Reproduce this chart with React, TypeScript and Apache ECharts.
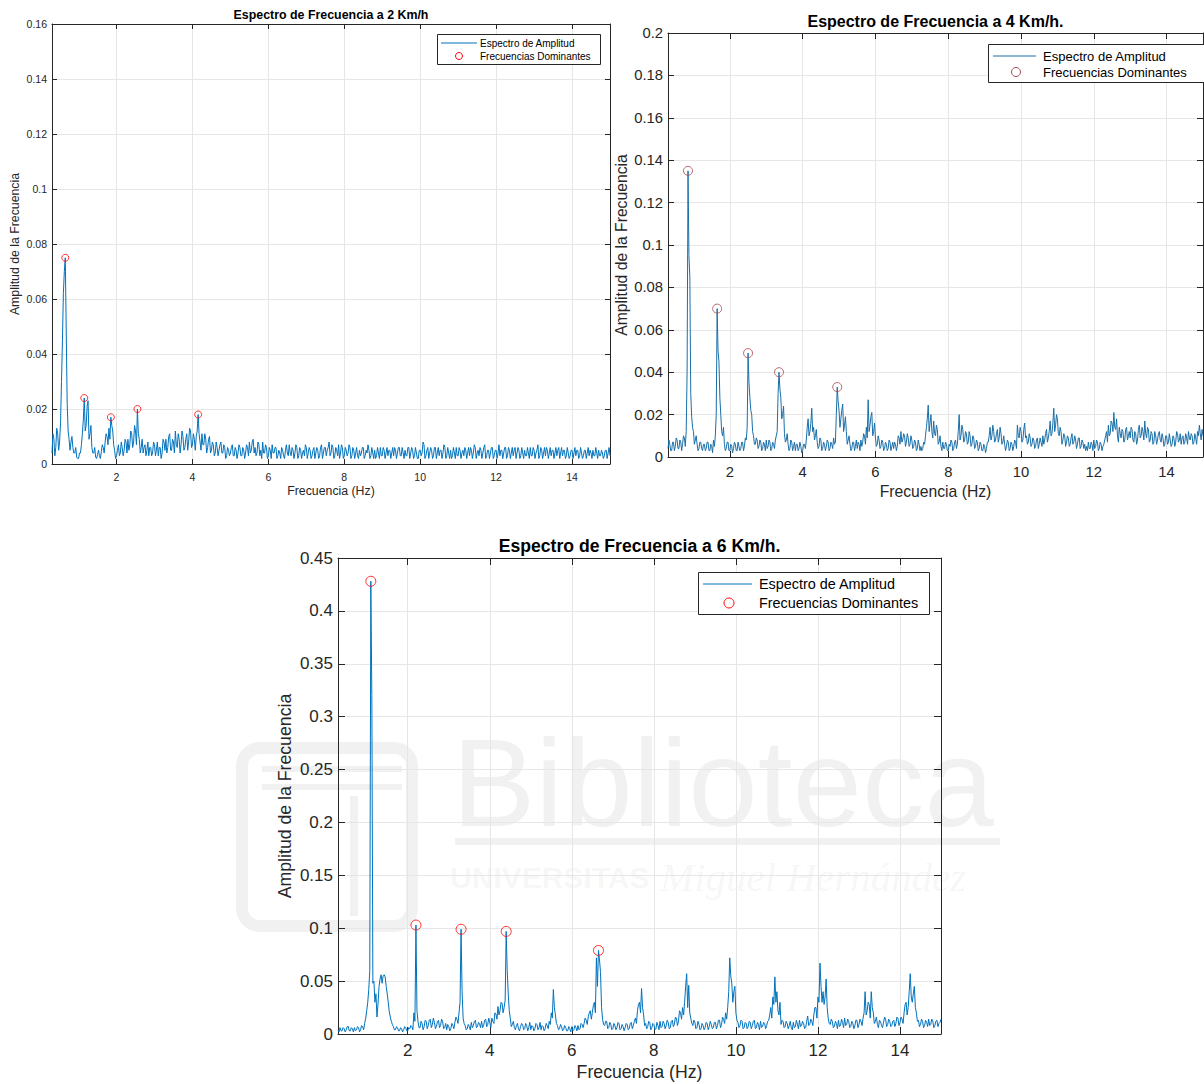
import { useEffect, useRef } from "react";
import * as echarts from "echarts";

// Frequency grid shared by the three spectra (Hz):
// the main samples sit at 0.30, 0.35, ... 15.00 and the half-step samples at 0.325, 0.375, ... 14.975
const FREQ_START = 0.3;
const FREQ_STEP = 0.05;
const FREQ_MAX = 15;
const FREQ_TICKS = [2, 4, 6, 8, 10, 12, 14];

// Amplitude spectrum at 2 Km/h, main samples
const amplitude2Kmh = [
  0.004, 0.009, 0.006, 0.011, 0.008, 0.03, 0.062, 0.075, 0.022, 0.009,
  0.008, 0.006, 0.004, 0.0025, 0.002, 0.004, 0.011, 0.024, 0.014, 0.023,
  0.011, 0.006, 0.004, 0.0025, 0.0035, 0.003, 0.0045, 0.006, 0.008, 0.01,
  0.013, 0.017, 0.012, 0.005, 0.003, 0.007, 0.004, 0.006, 0.005, 0.008,
  0.009, 0.007, 0.011, 0.008, 0.012, 0.02, 0.009, 0.006, 0.004, 0.007,
  0.005, 0.003, 0.006, 0.004, 0.007, 0.005, 0.003, 0.006, 0.004, 0.008,
  0.009, 0.006, 0.011, 0.005, 0.008, 0.012, 0.006, 0.009, 0.007, 0.01,
  0.006, 0.011, 0.008, 0.012, 0.007, 0.009, 0.01, 0.018, 0.008, 0.011,
  0.007, 0.009, 0.006, 0.01, 0.005, 0.007, 0.004, 0.006, 0.005, 0.008,
  0.004, 0.006, 0.003, 0.005, 0.004, 0.007, 0.003, 0.005, 0.004, 0.006,
  0.003, 0.005, 0.004, 0.006, 0.008, 0.005, 0.009, 0.006, 0.004, 0.007,
  0.005, 0.008, 0.004, 0.006, 0.003, 0.005, 0.007, 0.004, 0.006, 0.003,
  0.004, 0.006, 0.003, 0.005, 0.004, 0.007, 0.003, 0.005, 0.004, 0.006,
  0.003, 0.005, 0.004, 0.003, 0.006, 0.004, 0.005, 0.003, 0.006, 0.004,
  0.005, 0.003, 0.007, 0.004, 0.006, 0.005, 0.008, 0.004, 0.006, 0.003,
  0.005, 0.007, 0.004, 0.006, 0.003, 0.005, 0.004, 0.006, 0.003, 0.005,
  0.004, 0.003, 0.005, 0.004, 0.006, 0.003, 0.004, 0.005, 0.003, 0.004,
  0.005, 0.003, 0.004, 0.006, 0.003, 0.005, 0.004, 0.003, 0.005, 0.004,
  0.003, 0.005, 0.004, 0.006, 0.003, 0.004, 0.005, 0.003, 0.006, 0.004,
  0.005, 0.003, 0.004, 0.002, 0.005, 0.004, 0.007, 0.003, 0.006, 0.004,
  0.005, 0.003, 0.006, 0.004, 0.003, 0.005, 0.004, 0.006, 0.003, 0.004,
  0.005, 0.003, 0.004, 0.006, 0.003, 0.005, 0.004, 0.003, 0.005, 0.004,
  0.003, 0.005, 0.004, 0.006, 0.004, 0.003, 0.005, 0.004, 0.007, 0.003,
  0.005, 0.004, 0.006, 0.003, 0.005, 0.004, 0.003, 0.005, 0.004, 0.006,
  0.003, 0.005, 0.004, 0.003, 0.006, 0.004, 0.005, 0.003, 0.004, 0.005,
  0.003, 0.004, 0.006, 0.003, 0.005, 0.004, 0.007, 0.003, 0.005, 0.004,
  0.003, 0.005, 0.004, 0.003, 0.005, 0.004, 0.003, 0.006, 0.004, 0.003,
  0.005, 0.003, 0.004, 0.003, 0.005, 0.004, 0.003, 0.005, 0.003, 0.004,
  0.003, 0.005, 0.004, 0.003, 0.004, 0.005, 0.003, 0.004, 0.005, 0.003,
  0.004, 0.003, 0.005, 0.004, 0.003,
];
// Amplitude spectrum at 2 Km/h, half-step samples
const amplitude2KmhHalf = [
  0.011, 0.003, 0.013, 0.005, 0.015, 0.045, 0.07, 0.048, 0.012, 0.005,
  0.01, 0.004, 0.006, 0.002, 0.004, 0.007, 0.016, 0.012, 0.021, 0.009,
  0.014, 0.004, 0.006, 0.002, 0.005, 0.002, 0.007, 0.004, 0.011, 0.007,
  0.009, 0.014, 0.007, 0.002, 0.005, 0.003, 0.008, 0.003, 0.009, 0.004,
  0.005, 0.012, 0.006, 0.014, 0.007, 0.011, 0.004, 0.009, 0.006, 0.003,
  0.008, 0.006, 0.003, 0.008, 0.003, 0.008, 0.006, 0.002, 0.009, 0.005,
  0.004, 0.01, 0.005, 0.009, 0.004, 0.007, 0.011, 0.004, 0.012, 0.005,
  0.009, 0.005, 0.013, 0.006, 0.011, 0.005, 0.012, 0.011, 0.005, 0.007,
  0.011, 0.004, 0.009, 0.004, 0.008, 0.003, 0.008, 0.003, 0.007, 0.004,
  0.007, 0.002, 0.006, 0.003, 0.006, 0.003, 0.006, 0.002, 0.007, 0.003,
  0.006, 0.002, 0.007, 0.003, 0.004, 0.008, 0.004, 0.003, 0.008, 0.003,
  0.002, 0.004, 0.007, 0.002, 0.006, 0.002, 0.004, 0.006, 0.002, 0.005,
  0.002, 0.005, 0.002, 0.007, 0.003, 0.004, 0.006, 0.002, 0.007, 0.002,
  0.006, 0.002, 0.005, 0.007, 0.002, 0.006, 0.002, 0.005, 0.002, 0.006,
  0.002, 0.006, 0.002, 0.006, 0.003, 0.006, 0.003, 0.007, 0.002, 0.006,
  0.003, 0.002, 0.007, 0.002, 0.006, 0.003, 0.007, 0.002, 0.006, 0.002,
  0.006, 0.002, 0.003, 0.006, 0.002, 0.005, 0.007, 0.002, 0.006, 0.002,
  0.002, 0.006, 0.002, 0.003, 0.006, 0.002, 0.006, 0.005, 0.002, 0.006,
  0.006, 0.002, 0.006, 0.003, 0.006, 0.002, 0.003, 0.006, 0.002, 0.006,
  0.002, 0.006, 0.002, 0.005, 0.003, 0.008, 0.002, 0.005, 0.002, 0.006,
  0.002, 0.006, 0.002, 0.006, 0.005, 0.002, 0.007, 0.002, 0.006, 0.002,
  0.002, 0.006, 0.002, 0.003, 0.006, 0.002, 0.005, 0.006, 0.002, 0.006,
  0.006, 0.002, 0.007, 0.002, 0.005, 0.006, 0.002, 0.006, 0.002, 0.005,
  0.002, 0.006, 0.002, 0.005, 0.002, 0.007, 0.005, 0.002, 0.006, 0.002,
  0.006, 0.002, 0.006, 0.005, 0.002, 0.006, 0.002, 0.006, 0.002, 0.003,
  0.006, 0.002, 0.003, 0.006, 0.002, 0.005, 0.002, 0.006, 0.002, 0.006,
  0.006, 0.002, 0.006, 0.005, 0.002, 0.006, 0.005, 0.002, 0.006, 0.005,
  0.002, 0.006, 0.002, 0.005, 0.002, 0.006, 0.005, 0.002, 0.006, 0.002,
  0.005, 0.002, 0.006, 0.005, 0.002, 0.003, 0.006, 0.002, 0.003, 0.005,
  0.002, 0.005, 0.002, 0.006,
];
const dominantFreq2Kmh = [0.65, 1.15, 1.85, 2.55, 4.15];
const dominantAmp2Kmh = [0.075, 0.024, 0.017, 0.02, 0.018];

// Amplitude spectrum at 4 Km/h, main samples
const amplitude4Kmh = [
  0.004, 0.006, 0.003, 0.007, 0.005, 0.008, 0.004, 0.007, 0.006, 0.009,
  0.012, 0.135, 0.085, 0.019, 0.012, 0.008, 0.006, 0.004, 0.007, 0.003,
  0.006, 0.004, 0.007, 0.003, 0.005, 0.008, 0.01, 0.07, 0.045, 0.02,
  0.01, 0.006, 0.004, 0.007, 0.003, 0.005, 0.004, 0.006, 0.003, 0.005,
  0.004, 0.007, 0.005, 0.008, 0.049, 0.028, 0.02, 0.01, 0.006, 0.008,
  0.005, 0.007, 0.004, 0.006, 0.008, 0.005, 0.007, 0.004, 0.006, 0.008,
  0.012, 0.04, 0.028, 0.02, 0.011, 0.008, 0.006, 0.004, 0.007, 0.005,
  0.003, 0.006, 0.004, 0.005, 0.003, 0.006, 0.008, 0.018, 0.012, 0.023,
  0.014, 0.01, 0.007, 0.005, 0.008, 0.004, 0.006, 0.005, 0.007, 0.004,
  0.006, 0.009, 0.007, 0.033, 0.022, 0.018, 0.025, 0.015, 0.012, 0.008,
  0.006, 0.004, 0.007, 0.005, 0.004, 0.006, 0.008, 0.007, 0.01, 0.014,
  0.027, 0.015, 0.021, 0.012, 0.009, 0.006, 0.008, 0.005, 0.007, 0.004,
  0.006, 0.004, 0.007, 0.005, 0.004, 0.006, 0.005, 0.009, 0.012, 0.008,
  0.01, 0.007, 0.009, 0.006, 0.008, 0.005, 0.007, 0.004, 0.006, 0.005,
  0.004, 0.006, 0.014, 0.0245, 0.016, 0.012, 0.017, 0.01, 0.013, 0.007,
  0.005, 0.007, 0.004, 0.006, 0.003, 0.005, 0.007, 0.004, 0.008, 0.006,
  0.02, 0.01, 0.013, 0.008, 0.011, 0.007, 0.01, 0.006, 0.009, 0.005,
  0.007, 0.004, 0.006, 0.003, 0.005, 0.004, 0.007, 0.014, 0.01, 0.012,
  0.008, 0.013, 0.009, 0.011, 0.007, 0.006, 0.005, 0.007, 0.004, 0.006,
  0.005, 0.007, 0.015, 0.009, 0.012, 0.008, 0.016, 0.01, 0.007, 0.009,
  0.006, 0.008, 0.005, 0.009, 0.006, 0.007, 0.01, 0.008, 0.013, 0.009,
  0.017, 0.011, 0.023, 0.015, 0.018, 0.01, 0.012, 0.008, 0.01, 0.007,
  0.009, 0.006, 0.011, 0.007, 0.008, 0.006, 0.009, 0.005, 0.007, 0.006,
  0.005, 0.007, 0.004, 0.006, 0.008, 0.005, 0.007, 0.004, 0.006, 0.005,
  0.008, 0.012, 0.015, 0.011, 0.016, 0.021, 0.013, 0.01, 0.014, 0.009,
  0.012, 0.008, 0.014, 0.01, 0.009, 0.013, 0.007, 0.011, 0.008, 0.015,
  0.01, 0.012, 0.017, 0.009, 0.013, 0.008, 0.011, 0.007, 0.01, 0.008,
  0.012, 0.007, 0.009, 0.006, 0.01, 0.007, 0.008, 0.006, 0.009, 0.007,
  0.011, 0.008, 0.006, 0.01, 0.007, 0.009, 0.012, 0.008, 0.01, 0.007,
  0.009, 0.012, 0.015, 0.008, 0.01,
];
// Amplitude spectrum at 4 Km/h, half-step samples
const amplitude4KmhHalf = [
  0.008, 0.003, 0.007, 0.003, 0.009, 0.004, 0.008, 0.003, 0.01, 0.005,
  0.04, 0.095, 0.03, 0.014, 0.006, 0.01, 0.003, 0.007, 0.004, 0.006,
  0.003, 0.007, 0.003, 0.006, 0.002, 0.005, 0.02, 0.05, 0.028, 0.012,
  0.014, 0.003, 0.007, 0.003, 0.006, 0.002, 0.007, 0.003, 0.007, 0.003,
  0.007, 0.003, 0.009, 0.014, 0.035, 0.022, 0.012, 0.006, 0.009, 0.004,
  0.008, 0.003, 0.007, 0.003, 0.004, 0.008, 0.003, 0.007, 0.004, 0.01,
  0.03, 0.032, 0.018, 0.024, 0.007, 0.011, 0.003, 0.008, 0.003, 0.007,
  0.006, 0.003, 0.007, 0.002, 0.006, 0.004, 0.014, 0.01, 0.016, 0.012,
  0.008, 0.013, 0.004, 0.009, 0.003, 0.007, 0.003, 0.008, 0.003, 0.007,
  0.004, 0.006, 0.02, 0.026, 0.014, 0.022, 0.012, 0.019, 0.006, 0.01,
  0.003, 0.007, 0.003, 0.008, 0.007, 0.003, 0.005, 0.011, 0.006, 0.009,
  0.012, 0.019, 0.01, 0.016, 0.005, 0.01, 0.004, 0.008, 0.003, 0.007,
  0.003, 0.008, 0.003, 0.007, 0.007, 0.003, 0.01, 0.006, 0.007, 0.011,
  0.005, 0.011, 0.005, 0.01, 0.004, 0.008, 0.003, 0.008, 0.003, 0.003,
  0.007, 0.01, 0.018, 0.012, 0.02, 0.009, 0.011, 0.015, 0.006, 0.01,
  0.003, 0.004, 0.007, 0.003, 0.006, 0.008, 0.003, 0.007, 0.004, 0.012,
  0.008, 0.015, 0.007, 0.012, 0.006, 0.012, 0.005, 0.01, 0.004, 0.008,
  0.003, 0.007, 0.003, 0.006, 0.002, 0.007, 0.01, 0.008, 0.015, 0.007,
  0.011, 0.007, 0.014, 0.006, 0.01, 0.003, 0.008, 0.003, 0.007, 0.003,
  0.008, 0.004, 0.01, 0.014, 0.007, 0.013, 0.009, 0.006, 0.011, 0.005,
  0.009, 0.004, 0.008, 0.004, 0.009, 0.005, 0.006, 0.011, 0.007, 0.012,
  0.01, 0.016, 0.012, 0.02, 0.011, 0.014, 0.006, 0.011, 0.005, 0.01,
  0.005, 0.009, 0.006, 0.01, 0.004, 0.009, 0.004, 0.008, 0.004, 0.003,
  0.003, 0.004, 0.007, 0.003, 0.004, 0.008, 0.003, 0.007, 0.003, 0.006,
  0.01, 0.007, 0.01, 0.017, 0.012, 0.014, 0.018, 0.007, 0.011, 0.013,
  0.007, 0.013, 0.008, 0.012, 0.014, 0.008, 0.012, 0.006, 0.013, 0.009,
  0.014, 0.008, 0.011, 0.014, 0.007, 0.012, 0.006, 0.012, 0.006, 0.011,
  0.008, 0.011, 0.005, 0.01, 0.006, 0.011, 0.005, 0.01, 0.005, 0.012,
  0.007, 0.011, 0.009, 0.006, 0.011, 0.006, 0.009, 0.011, 0.006, 0.011,
  0.006, 0.01, 0.011, 0.013,
];
const dominantFreq4Kmh = [0.85, 1.65, 2.5, 3.35, 4.95];
const dominantAmp4Kmh = [0.135, 0.07, 0.049, 0.04, 0.033];

// Amplitude spectrum at 6 Km/h, main samples
const amplitude6Kmh = [
  0.004, 0.006, 0.003, 0.005, 0.004, 0.007, 0.003, 0.005, 0.006, 0.004,
  0.006, 0.004, 0.007, 0.01, 0.022, 0.042, 0.428, 0.048, 0.03, 0.016,
  0.045, 0.056, 0.055, 0.054, 0.038, 0.021, 0.012, 0.007, 0.004, 0.006,
  0.003, 0.005, 0.004, 0.006, 0.003, 0.005, 0.007, 0.02, 0.103, 0.012,
  0.006, 0.01, 0.007, 0.012, 0.008, 0.014, 0.009, 0.011, 0.007, 0.013,
  0.008, 0.012, 0.006, 0.004, 0.007, 0.005, 0.008, 0.011, 0.014, 0.02,
  0.099, 0.015, 0.008, 0.005, 0.007, 0.011, 0.008, 0.013, 0.007, 0.01,
  0.012, 0.008, 0.014, 0.009, 0.011, 0.015, 0.01, 0.019, 0.026, 0.022,
  0.029, 0.025, 0.097, 0.038, 0.015, 0.009, 0.006, 0.008, 0.005, 0.007,
  0.009, 0.005, 0.008, 0.006, 0.004, 0.007, 0.005, 0.009, 0.006, 0.004,
  0.007, 0.005, 0.008, 0.012, 0.02, 0.042, 0.018, 0.008, 0.005, 0.007,
  0.004, 0.006, 0.003, 0.005, 0.007, 0.004, 0.006, 0.008, 0.005, 0.009,
  0.01, 0.013, 0.016, 0.022, 0.02, 0.03, 0.072, 0.079, 0.058, 0.014,
  0.008, 0.012, 0.006, 0.009, 0.005, 0.008, 0.006, 0.01, 0.005, 0.007,
  0.006, 0.009, 0.005, 0.011, 0.008, 0.015, 0.022, 0.03, 0.043, 0.018,
  0.01, 0.007, 0.011, 0.006, 0.009, 0.005, 0.008, 0.012, 0.007, 0.01,
  0.008, 0.011, 0.006, 0.013, 0.009, 0.015, 0.012, 0.02, 0.025, 0.03,
  0.057, 0.046, 0.015, 0.008, 0.011, 0.006, 0.009, 0.005, 0.008, 0.006,
  0.01, 0.007, 0.009, 0.006, 0.011, 0.008, 0.013, 0.009, 0.014, 0.02,
  0.025, 0.072, 0.048, 0.04, 0.02, 0.011, 0.008, 0.012, 0.006, 0.01,
  0.007, 0.011, 0.008, 0.013, 0.006, 0.009, 0.012, 0.007, 0.01, 0.008,
  0.013, 0.025, 0.035, 0.054, 0.04, 0.018, 0.009, 0.012, 0.007, 0.01,
  0.008, 0.006, 0.011, 0.007, 0.009, 0.013, 0.008, 0.01, 0.006, 0.017,
  0.009, 0.012, 0.018, 0.025, 0.035, 0.067, 0.03, 0.028, 0.052, 0.015,
  0.009, 0.012, 0.007, 0.01, 0.013, 0.008, 0.011, 0.015, 0.009, 0.012,
  0.007, 0.01, 0.008, 0.013, 0.009, 0.012, 0.015, 0.04, 0.022, 0.028,
  0.04, 0.02, 0.012, 0.009, 0.013, 0.008, 0.011, 0.014, 0.009, 0.012,
  0.008, 0.013, 0.01, 0.015, 0.011, 0.014, 0.02, 0.03, 0.025, 0.057,
  0.03, 0.045, 0.02, 0.013, 0.009, 0.012, 0.008, 0.011, 0.014, 0.009,
  0.012, 0.008, 0.013, 0.01, 0.014,
];
// Amplitude spectrum at 6 Km/h, half-step samples
const amplitude6KmhHalf = [
  0.002, 0.003, 0.006, 0.002, 0.007, 0.003, 0.006, 0.002, 0.003, 0.007,
  0.002, 0.008, 0.004, 0.015, 0.03, 0.06, 0.32, 0.05, 0.038, 0.028,
  0.052, 0.048, 0.056, 0.045, 0.03, 0.016, 0.009, 0.004, 0.007, 0.003,
  0.006, 0.002, 0.007, 0.003, 0.006, 0.008, 0.004, 0.012, 0.022, 0.006,
  0.012, 0.004, 0.013, 0.005, 0.013, 0.006, 0.015, 0.005, 0.012, 0.006,
  0.014, 0.005, 0.01, 0.009, 0.003, 0.01, 0.005, 0.016, 0.01, 0.03,
  0.04, 0.01, 0.004, 0.009, 0.004, 0.006, 0.012, 0.006, 0.011, 0.006,
  0.006, 0.013, 0.007, 0.015, 0.006, 0.012, 0.02, 0.014, 0.018, 0.03,
  0.02, 0.032, 0.06, 0.022, 0.007, 0.012, 0.004, 0.01, 0.003, 0.01,
  0.004, 0.01, 0.003, 0.011, 0.008, 0.003, 0.01, 0.004, 0.011, 0.008,
  0.003, 0.01, 0.005, 0.009, 0.015, 0.025, 0.01, 0.004, 0.009, 0.003,
  0.008, 0.003, 0.007, 0.002, 0.003, 0.008, 0.003, 0.004, 0.01, 0.006,
  0.015, 0.009, 0.02, 0.014, 0.027, 0.02, 0.045, 0.07, 0.025, 0.009,
  0.012, 0.005, 0.011, 0.004, 0.01, 0.004, 0.011, 0.004, 0.009, 0.003,
  0.01, 0.004, 0.01, 0.005, 0.012, 0.01, 0.028, 0.02, 0.025, 0.008,
  0.005, 0.012, 0.004, 0.01, 0.004, 0.011, 0.004, 0.006, 0.012, 0.005,
  0.013, 0.005, 0.012, 0.007, 0.016, 0.008, 0.022, 0.014, 0.018, 0.045,
  0.025, 0.02, 0.01, 0.013, 0.005, 0.012, 0.004, 0.01, 0.004, 0.011,
  0.004, 0.012, 0.005, 0.011, 0.005, 0.013, 0.006, 0.016, 0.01, 0.014,
  0.04, 0.055, 0.03, 0.045, 0.013, 0.006, 0.013, 0.005, 0.011, 0.005,
  0.012, 0.005, 0.012, 0.005, 0.011, 0.004, 0.006, 0.011, 0.005, 0.012,
  0.018, 0.015, 0.028, 0.03, 0.022, 0.03, 0.013, 0.006, 0.012, 0.005,
  0.012, 0.004, 0.006, 0.013, 0.005, 0.007, 0.012, 0.005, 0.012, 0.008,
  0.014, 0.008, 0.025, 0.015, 0.03, 0.045, 0.04, 0.035, 0.025, 0.01,
  0.014, 0.006, 0.012, 0.005, 0.007, 0.014, 0.006, 0.008, 0.014, 0.006,
  0.012, 0.005, 0.013, 0.006, 0.014, 0.008, 0.02, 0.018, 0.03, 0.015,
  0.025, 0.01, 0.016, 0.006, 0.012, 0.006, 0.016, 0.007, 0.014, 0.007,
  0.012, 0.007, 0.016, 0.008, 0.016, 0.01, 0.028, 0.018, 0.04, 0.035,
  0.038, 0.025, 0.012, 0.007, 0.014, 0.006, 0.013, 0.007, 0.008, 0.014,
  0.006, 0.012, 0.007, 0.011,
];
const dominantFreq6Kmh = [1.1, 2.2, 3.3, 4.4, 6.65];
const dominantAmp6Kmh = [0.428, 0.103, 0.099, 0.097, 0.079];

const FONT = '"Liberation Sans", Arial, Helvetica, sans-serif';
const AXIS_COLOR = "#262626";
const GRID_COLOR = "#e6e6e6";

// Interleave main and half-step samples into [frequency, amplitude] pairs
const toSpectrum = (main: number[], half: number[]) => {
  const out: number[][] = [];
  main.forEach((v, i) => {
    out.push([Number((FREQ_START + i * FREQ_STEP).toFixed(3)), v]);
    if (i < half.length) out.push([Number((FREQ_START + (i + 0.5) * FREQ_STEP).toFixed(3)), half[i]]);
  });
  return out;
};
const toPairs = (xs: number[], ys: number[]) => xs.map((x, i) => [x, ys[i]]);
const fmtAmp = (v: number) => String(Number(v.toFixed(4)));

type Panel = {
  title: string;
  spectrum: number[];
  spectrumHalf: number[];
  peakFreq: number[];
  peakAmp: number[];
  yMax: number;
  yStep: number;
  left: number;
  top: number;
  width: number;
  height: number;
  lineColor: string;
  markerColor: string;
  markerSize: number;
  tickFont: number;
  nameFont: number;
  titleFont: number;
  legendFont: number;
  tickLen: number;
  xLabelMargin: number;
  yLabelMargin: number;
  titleY: number;
  xNameY: number;
  yNameX: number;
  legend: { x: number; y: number; w: number; h: number; lx1: number; lx2: number; r1: number; r2: number; cx: number; cr: number; tx: number };
};

const panels: Panel[] = [
  {
    title: "Espectro de Frecuencia a 2 Km/h",
    spectrum: amplitude2Kmh,
    spectrumHalf: amplitude2KmhHalf,
    peakFreq: dominantFreq2Kmh,
    peakAmp: dominantAmp2Kmh,
    yMax: 0.16,
    yStep: 0.02,
    left: 52, top: 24, width: 558, height: 440,
    lineColor: "#0072BD",
    markerColor: "#ff0000",
    markerSize: 7,
    tickFont: 10.5, nameFont: 12.3, titleFont: 12.4, legendFont: 10,
    tickLen: 5, xLabelMargin: 7, yLabelMargin: 5,
    titleY: 15, xNameY: 491, yNameX: 15,
    legend: { x: 437, y: 34, w: 163, h: 30, lx1: 441, lx2: 477, r1: 43, r2: 56, cx: 459, cr: 3.5, tx: 480 },
  },
  {
    title: "Espectro de Frecuencia a 4 Km/h.",
    spectrum: amplitude4Kmh,
    spectrumHalf: amplitude4KmhHalf,
    peakFreq: dominantFreq4Kmh,
    peakAmp: dominantAmp4Kmh,
    yMax: 0.2,
    yStep: 0.02,
    left: 668, top: 33, width: 535, height: 424,
    lineColor: "#1a6fa8",
    markerColor: "#a8464f",
    markerSize: 9,
    tickFont: 14.8, nameFont: 15.7, titleFont: 16, legendFont: 13,
    tickLen: 6, xLabelMargin: 7, yLabelMargin: 5,
    titleY: 21, xNameY: 491, yNameX: 621,
    legend: { x: 988, y: 44, w: 240, h: 38, lx1: 993, lx2: 1036, r1: 56, r2: 72, cx: 1016, cr: 4.5, tx: 1043 },
  },
  {
    title: "Espectro de Frecuencia a 6 Km/h.",
    spectrum: amplitude6Kmh,
    spectrumHalf: amplitude6KmhHalf,
    peakFreq: dominantFreq6Kmh,
    peakAmp: dominantAmp6Kmh,
    yMax: 0.45,
    yStep: 0.05,
    left: 338, top: 558, width: 603, height: 476,
    lineColor: "#0072BD",
    markerColor: "#ff0000",
    markerSize: 10,
    tickFont: 17, nameFont: 17.7, titleFont: 17.6, legendFont: 14.4,
    tickLen: 7, xLabelMargin: 8, yLabelMargin: 5,
    titleY: 546, xNameY: 1072, yNameX: 285,
    legend: { x: 698, y: 572, w: 231, h: 42, lx1: 703, lx2: 752, r1: 584, r2: 603, cx: 729, cr: 5, tx: 759 },
  },
];

function buildOption() {
  const grid: any[] = [];
  const xAxis: any[] = [];
  const yAxis: any[] = [];
  const series: any[] = [];
  const graphic: any[] = [];

  // Faint library watermark behind the lower plot
  const wm = "rgba(0,0,0,0.055)";
  graphic.push(
    { type: "text", x: 452, y: 782, z: 0, silent: true, style: { text: "Biblioteca", fill: wm, fontSize: 125, fontFamily: FONT, align: "left", verticalAlign: "middle" } },
    { type: "rect", z: 0, silent: true, shape: { x: 455, y: 838, width: 545, height: 7 }, style: { fill: wm } },
    { type: "text", x: 450, y: 877, z: 0, silent: true, style: { text: "UNIVERSITAS", fill: wm, fontSize: 30, fontWeight: "bold", fontFamily: FONT, align: "left", verticalAlign: "middle" } },
    { type: "text", x: 660, y: 877, z: 0, silent: true, style: { text: "Miguel Hernández", fill: wm, fontSize: 41, fontStyle: "italic", fontFamily: '"Liberation Serif", serif', align: "left", verticalAlign: "middle" } },
    { type: "rect", z: 0, silent: true, shape: { x: 242, y: 748, width: 170, height: 178, r: 18 }, style: { fill: "none", stroke: wm, lineWidth: 12 } },
    { type: "rect", z: 0, silent: true, shape: { x: 262, y: 766, width: 140, height: 6 }, style: { fill: wm } },
    { type: "rect", z: 0, silent: true, shape: { x: 262, y: 784, width: 140, height: 6 }, style: { fill: wm } },
    { type: "rect", z: 0, silent: true, shape: { x: 350, y: 796, width: 8, height: 120 }, style: { fill: wm } }
  );

  panels.forEach((p, i) => {
    grid.push({ left: p.left, top: p.top, width: p.width, height: p.height });

    const xBase = {
      type: "value",
      gridIndex: i,
      min: FREQ_START,
      max: FREQ_MAX,
      axisLine: { show: true, onZero: false, lineStyle: { color: AXIS_COLOR, width: 1 } },
      axisTick: { show: true, inside: true, length: p.tickLen, customValues: FREQ_TICKS, lineStyle: { color: AXIS_COLOR } },
    };
    xAxis.push({
      ...xBase,
      position: "bottom",
      axisLabel: { customValues: FREQ_TICKS, margin: p.xLabelMargin, fontSize: p.tickFont, fontFamily: FONT, color: AXIS_COLOR },
      splitLine: { show: true, lineStyle: { color: GRID_COLOR, width: 1 } },
    });
    xAxis.push({
      ...xBase,
      position: "top",
      axisLabel: { show: false },
      splitLine: { show: false },
    });

    const yBase = {
      type: "value",
      gridIndex: i,
      min: 0,
      max: p.yMax,
      interval: p.yStep,
      axisLine: { show: true, onZero: false, lineStyle: { color: AXIS_COLOR, width: 1 } },
      axisTick: { show: true, inside: true, length: p.tickLen, lineStyle: { color: AXIS_COLOR } },
    };
    yAxis.push({
      ...yBase,
      position: "left",
      axisLabel: { margin: p.yLabelMargin, fontSize: p.tickFont, fontFamily: FONT, color: AXIS_COLOR, formatter: fmtAmp },
      splitLine: { show: true, lineStyle: { color: GRID_COLOR, width: 1 } },
    });
    yAxis.push({
      ...yBase,
      position: "right",
      axisLabel: { show: false },
      splitLine: { show: false },
    });

    series.push({
      name: "Espectro de Amplitud",
      type: "line",
      xAxisIndex: 2 * i,
      yAxisIndex: 2 * i,
      data: toSpectrum(p.spectrum, p.spectrumHalf),
      showSymbol: false,
      symbol: "none",
      clip: true,
      lineStyle: { color: p.lineColor, width: 1 },
      z: 2,
    });
    series.push({
      name: "Frecuencias Dominantes",
      type: "scatter",
      xAxisIndex: 2 * i,
      yAxisIndex: 2 * i,
      data: toPairs(p.peakFreq, p.peakAmp),
      symbol: "circle",
      symbolSize: p.markerSize,
      itemStyle: { color: "rgba(0,0,0,0)", borderColor: p.markerColor, borderWidth: 1 },
      z: 3,
    });

    const cx = p.left + p.width / 2;
    graphic.push(
      { type: "text", x: cx, y: p.titleY, z: 10, style: { text: p.title, fill: "#000", fontSize: p.titleFont, fontWeight: "bold", fontFamily: FONT, align: "center", verticalAlign: "middle" } },
      { type: "text", x: cx, y: p.xNameY, z: 10, style: { text: "Frecuencia (Hz)", fill: AXIS_COLOR, fontSize: p.nameFont, fontFamily: FONT, align: "center", verticalAlign: "middle" } },
      { type: "text", x: p.yNameX, y: p.top + p.height / 2, rotation: Math.PI / 2, z: 10, style: { text: "Amplitud de la Frecuencia", fill: AXIS_COLOR, fontSize: p.nameFont, fontFamily: FONT, align: "center", verticalAlign: "middle" } }
    );

    const L = p.legend;
    graphic.push(
      { type: "rect", z: 20, shape: { x: L.x + 0.5, y: L.y + 0.5, width: L.w, height: L.h }, style: { fill: "#fff", stroke: AXIS_COLOR, lineWidth: 1 } },
      { type: "line", z: 21, shape: { x1: L.lx1, y1: L.r1, x2: L.lx2, y2: L.r1 }, style: { stroke: p.lineColor, lineWidth: 1 } },
      { type: "circle", z: 21, shape: { cx: L.cx, cy: L.r2, r: L.cr }, style: { fill: "none", stroke: p.markerColor, lineWidth: 1 } },
      { type: "text", x: L.tx, y: L.r1, z: 21, style: { text: "Espectro de Amplitud", fill: "#000", fontSize: p.legendFont, fontFamily: FONT, align: "left", verticalAlign: "middle" } },
      { type: "text", x: L.tx, y: L.r2, z: 21, style: { text: "Frecuencias Dominantes", fill: "#000", fontSize: p.legendFont, fontFamily: FONT, align: "left", verticalAlign: "middle" } }
    );
  });

  return { animation: false, backgroundColor: "#ffffff", grid, xAxis, yAxis, series, graphic };
}

export default function App() {
  const ref = useRef<HTMLDivElement>(null);

  useEffect(() => {
    if (!ref.current) return;
    const chart = echarts.init(ref.current, undefined, { renderer: "svg" });
    chart.setOption(buildOption() as any);
    return () => chart.dispose();
  }, []);

  return (
    <div
      ref={ref}
      style={{ position: "fixed", left: 0, top: 0, width: 1204, height: 1084, background: "#fff" }}
    />
  );
}
